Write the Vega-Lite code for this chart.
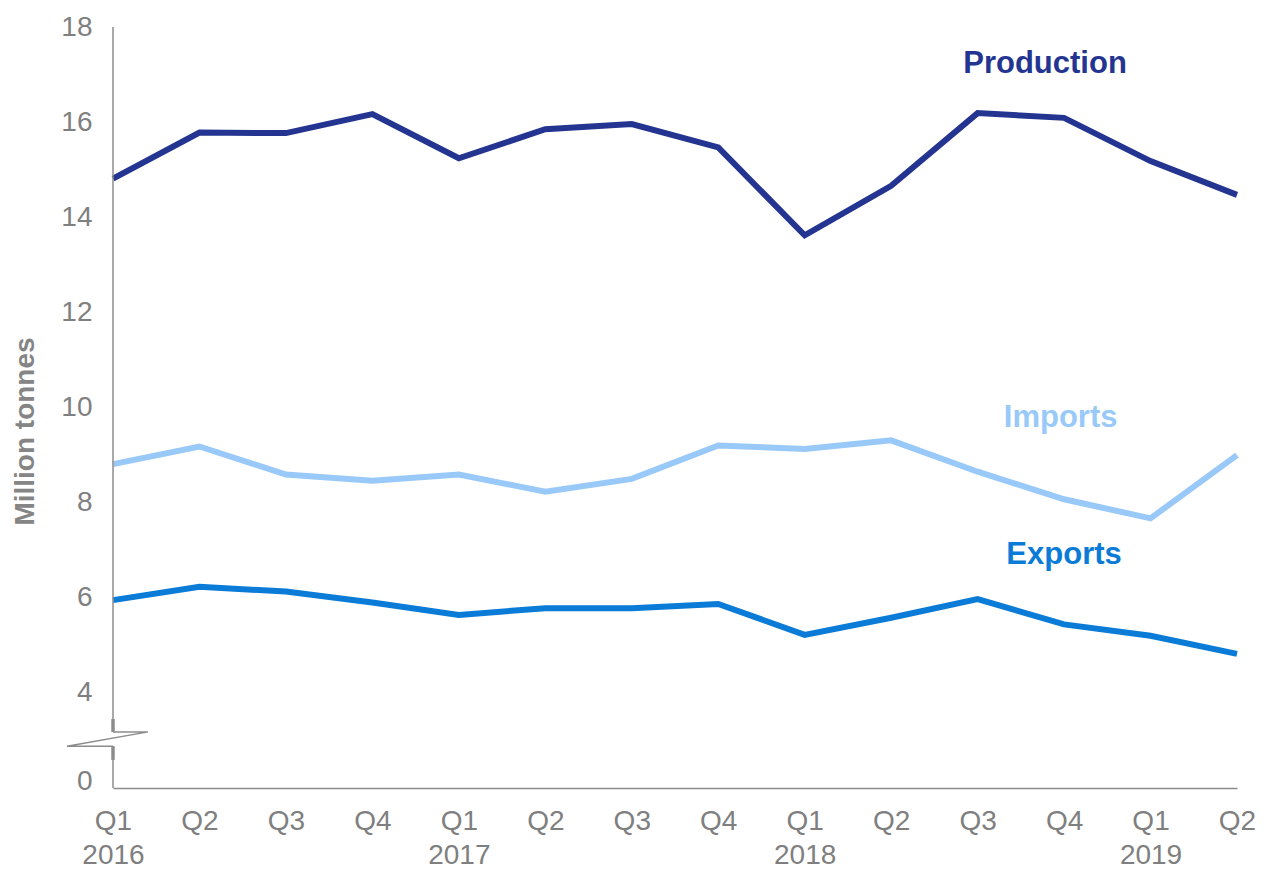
{
  "$schema": "https://vega.github.io/schema/vega-lite/v6.json",
  "width": 1124,
  "height": 761,
  "autosize": {"type": "none"},
  "padding": {"left": 113, "top": 27, "right": 27, "bottom": 82},
  "background": "white",
  "config": {
    "view": {"stroke": null},
    "font": "Liberation Sans"
  },
  "datasets": {
    "series": [
      {"t": 0, "quarter": "Q1 2016", "series": "Production", "value": 14.81},
      {"t": 1, "quarter": "Q2 2016", "series": "Production", "value": 15.78},
      {"t": 2, "quarter": "Q3 2016", "series": "Production", "value": 15.77},
      {"t": 3, "quarter": "Q4 2016", "series": "Production", "value": 16.17},
      {"t": 4, "quarter": "Q1 2017", "series": "Production", "value": 15.24},
      {"t": 5, "quarter": "Q2 2017", "series": "Production", "value": 15.85},
      {"t": 6, "quarter": "Q3 2017", "series": "Production", "value": 15.96},
      {"t": 7, "quarter": "Q4 2017", "series": "Production", "value": 15.47},
      {"t": 8, "quarter": "Q1 2018", "series": "Production", "value": 13.62},
      {"t": 9, "quarter": "Q2 2018", "series": "Production", "value": 14.66},
      {"t": 10, "quarter": "Q3 2018", "series": "Production", "value": 16.19},
      {"t": 11, "quarter": "Q4 2018", "series": "Production", "value": 16.09},
      {"t": 12, "quarter": "Q1 2019", "series": "Production", "value": 15.18},
      {"t": 13, "quarter": "Q2 2019", "series": "Production", "value": 14.47},
      {"t": 0, "quarter": "Q1 2016", "series": "Imports", "value": 8.81},
      {"t": 1, "quarter": "Q2 2016", "series": "Imports", "value": 9.18},
      {"t": 2, "quarter": "Q3 2016", "series": "Imports", "value": 8.59},
      {"t": 3, "quarter": "Q4 2016", "series": "Imports", "value": 8.46},
      {"t": 4, "quarter": "Q1 2017", "series": "Imports", "value": 8.59},
      {"t": 5, "quarter": "Q2 2017", "series": "Imports", "value": 8.23},
      {"t": 6, "quarter": "Q3 2017", "series": "Imports", "value": 8.5},
      {"t": 7, "quarter": "Q4 2017", "series": "Imports", "value": 9.2},
      {"t": 8, "quarter": "Q1 2018", "series": "Imports", "value": 9.13},
      {"t": 9, "quarter": "Q2 2018", "series": "Imports", "value": 9.31},
      {"t": 10, "quarter": "Q3 2018", "series": "Imports", "value": 8.65},
      {"t": 11, "quarter": "Q4 2018", "series": "Imports", "value": 8.07},
      {"t": 12, "quarter": "Q1 2019", "series": "Imports", "value": 7.67},
      {"t": 13, "quarter": "Q2 2019", "series": "Imports", "value": 9.0},
      {"t": 0, "quarter": "Q1 2016", "series": "Exports", "value": 5.95},
      {"t": 1, "quarter": "Q2 2016", "series": "Exports", "value": 6.23},
      {"t": 2, "quarter": "Q3 2016", "series": "Exports", "value": 6.13},
      {"t": 3, "quarter": "Q4 2016", "series": "Exports", "value": 5.9},
      {"t": 4, "quarter": "Q1 2017", "series": "Exports", "value": 5.64},
      {"t": 5, "quarter": "Q2 2017", "series": "Exports", "value": 5.78},
      {"t": 6, "quarter": "Q3 2017", "series": "Exports", "value": 5.78},
      {"t": 7, "quarter": "Q4 2017", "series": "Exports", "value": 5.87},
      {"t": 8, "quarter": "Q1 2018", "series": "Exports", "value": 5.22},
      {"t": 9, "quarter": "Q2 2018", "series": "Exports", "value": 5.58},
      {"t": 10, "quarter": "Q3 2018", "series": "Exports", "value": 5.97},
      {"t": 11, "quarter": "Q4 2018", "series": "Exports", "value": 5.44},
      {"t": 12, "quarter": "Q1 2019", "series": "Exports", "value": 5.2},
      {"t": 13, "quarter": "Q2 2019", "series": "Exports", "value": 4.82}
    ],
    "labels": [
      {"series": "Production", "t": 10.78, "value": 17.04},
      {"series": "Imports", "t": 10.96, "value": 9.6},
      {"series": "Exports", "t": 11.0, "value": 6.7}
    ],
    "axisThin": [
      {"t": 0, "from": 3.18, "to": 18},
      {"t": 0, "from": 2, "to": 2.88}
    ],
    "axisThick": [
      {"t": 0, "from": 3.18, "to": 3.45},
      {"t": 0, "from": 2.59, "to": 2.88}
    ],
    "breakMark": [
      {"order": 1, "t": 0, "value": 3.18},
      {"order": 2, "t": 0.405, "value": 3.18},
      {"order": 3, "t": -0.532, "value": 2.88},
      {"order": 4, "t": 0, "value": 2.88}
    ]
  },
  "layer": [
    {
      "data": {"name": "series"},
      "mark": {"type": "line", "strokeWidth": 6, "strokeJoin": "miter", "clip": false},
      "encoding": {
        "x": {
          "field": "t",
          "type": "quantitative",
          "scale": {"domain": [0, 13], "nice": false, "zero": false},
          "axis": {
            "title": null,
            "values": [0, 1, 2, 3, 4, 5, 6, 7, 8, 9, 10, 11, 12, 13],
            "labelExpr": "split(['Q1|2016','Q2','Q3','Q4','Q1|2017','Q2','Q3','Q4','Q1|2018','Q2','Q3','Q4','Q1|2019','Q2'][datum.value], '|')",
            "labelFontSize": 28,
            "labelLineHeight": 34,
            "labelColor": "#7f7f7f",
            "labelPadding": 19,
            "labelFlush": false,
            "labelOverlap": false,
            "ticks": false,
            "grid": false,
            "domainColor": "#8c8c8c",
            "domainWidth": 1.5
          }
        },
        "y": {
          "field": "value",
          "type": "quantitative",
          "scale": {"domain": [2, 18], "nice": false, "zero": false},
          "axis": {
            "title": "Million tonnes",
            "titleFontSize": 28,
            "titleFontWeight": "bold",
            "titleColor": "#858585",
            "titleAngle": -90,
            "titleBaseline": "middle",
            "titleAlign": "center",
            "titleX": -88,
            "titleY": 404,
            "values": [2, 4, 6, 8, 10, 12, 14, 16, 18],
            "labelExpr": "datum.value == 2 ? '0' : datum.label",
            "labelFontSize": 28,
            "labelColor": "#7f7f7f",
            "labelPadding": 21,
            "labelOffset": {"condition": {"test": "datum.value == 2", "value": -7}, "value": 0},
            "ticks": false,
            "grid": false,
            "domain": false
          }
        },
        "color": {
          "field": "series",
          "type": "nominal",
          "scale": {
            "domain": ["Production", "Imports", "Exports"],
            "range": ["#243591", "#99c9f9", "#0a7bd6"]
          },
          "legend": null
        },
        "detail": {"field": "series"}
      }
    },
    {
      "data": {"name": "labels"},
      "mark": {"type": "text", "fontSize": 31, "fontWeight": "bold", "align": "center", "baseline": "alphabetic"},
      "encoding": {
        "x": {"field": "t", "type": "quantitative"},
        "y": {"field": "value", "type": "quantitative"},
        "text": {"field": "series"},
        "color": {"field": "series", "type": "nominal", "legend": null}
      }
    },
    {
      "data": {"name": "axisThin"},
      "mark": {"type": "rule", "color": "#8c8c8c", "strokeWidth": 1.5},
      "encoding": {
        "x": {"field": "t", "type": "quantitative"},
        "y": {"field": "from", "type": "quantitative"},
        "y2": {"field": "to"}
      }
    },
    {
      "data": {"name": "axisThick"},
      "mark": {"type": "rule", "color": "#8c8c8c", "strokeWidth": 3.5},
      "encoding": {
        "x": {"field": "t", "type": "quantitative"},
        "y": {"field": "from", "type": "quantitative"},
        "y2": {"field": "to"}
      }
    },
    {
      "data": {"name": "breakMark"},
      "mark": {"type": "line", "color": "#8c8c8c", "strokeWidth": 1.5, "clip": false},
      "encoding": {
        "x": {"field": "t", "type": "quantitative"},
        "y": {"field": "value", "type": "quantitative"},
        "order": {"field": "order"}
      }
    }
  ]
}
